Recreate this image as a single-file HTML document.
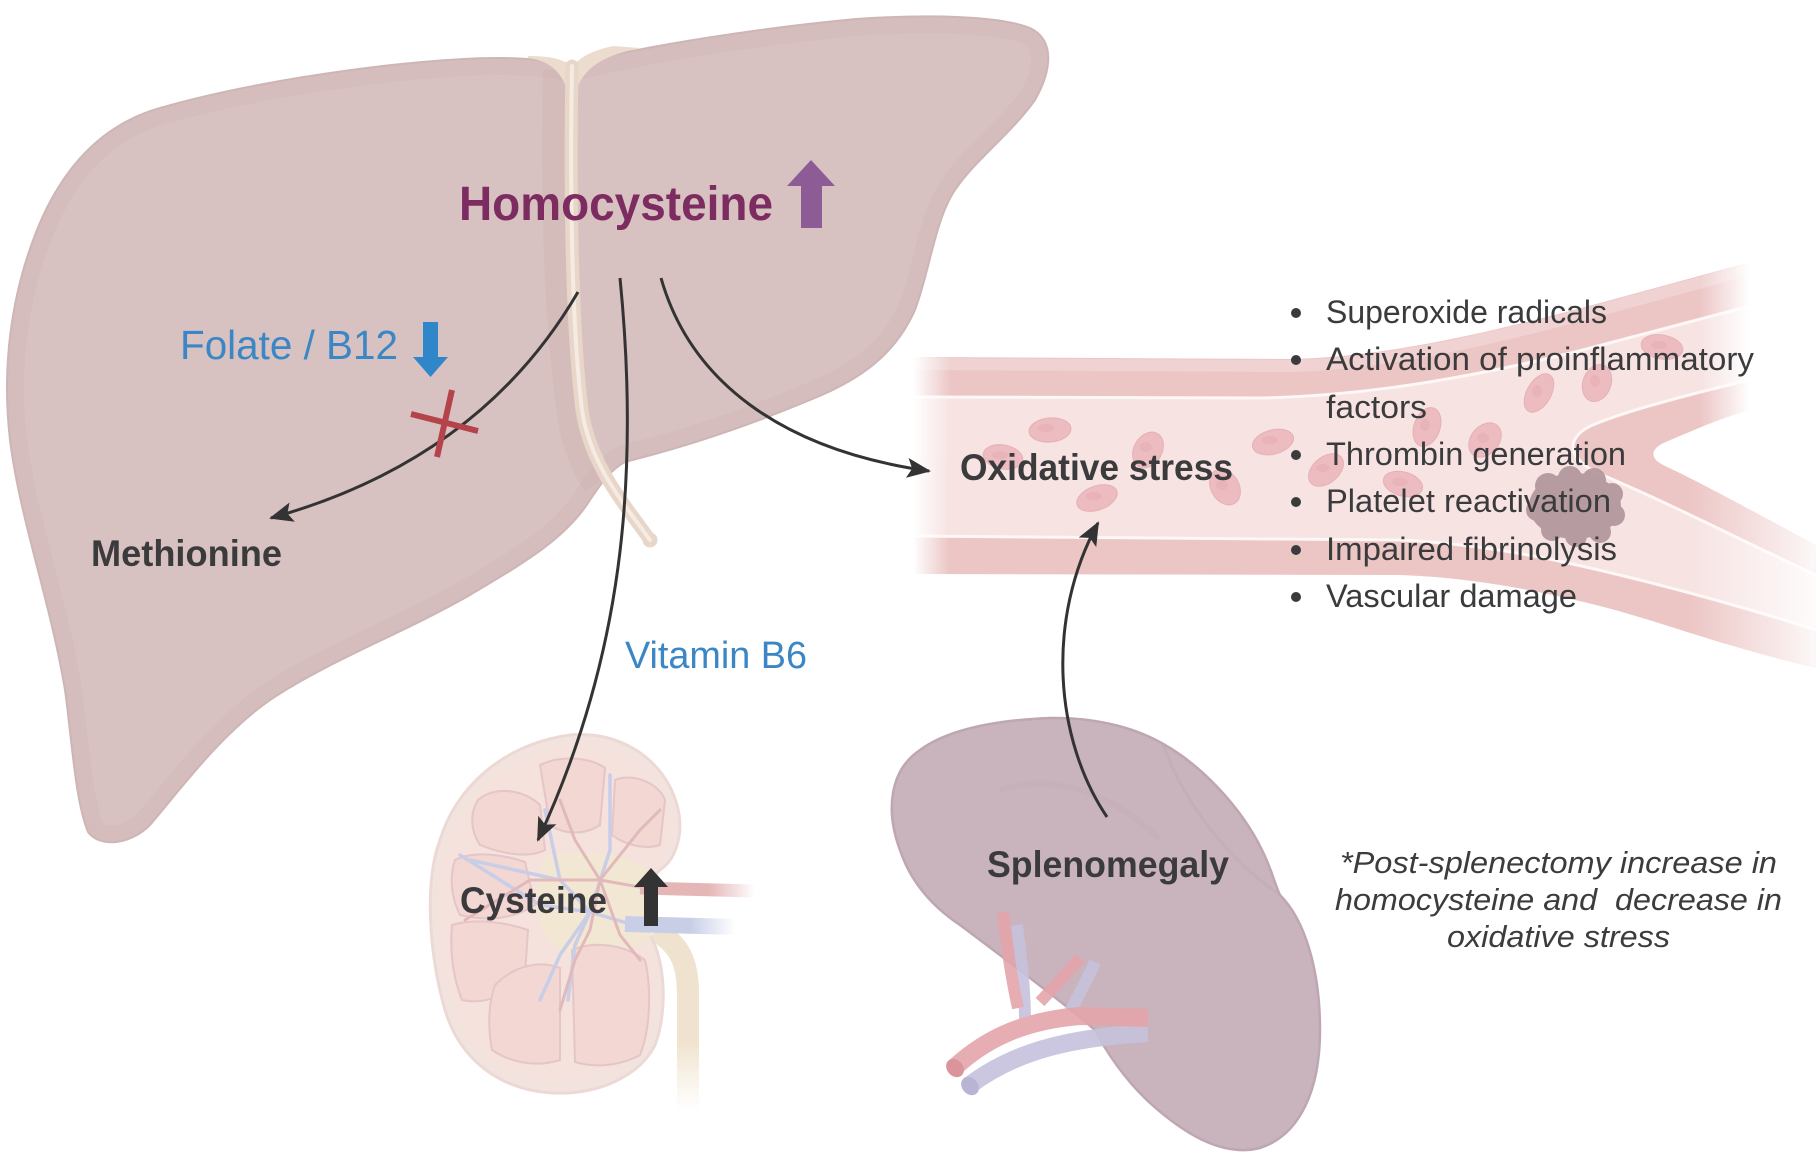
<!DOCTYPE html>
<html><head><meta charset="utf-8">
<style>
html,body{margin:0;padding:0;background:#fff;width:1816px;height:1154px;overflow:hidden}
svg{display:block}
</style></head>
<body>
<svg width="1816" height="1154" viewBox="0 0 1816 1154" xmlns="http://www.w3.org/2000/svg" font-family="'Liberation Sans', Arial, sans-serif">
<defs>
  <linearGradient id="gTop" gradientUnits="userSpaceOnUse" x1="913" y1="0" x2="1750" y2="0">
    <stop offset="0" stop-color="#000"/>
    <stop offset="0.045" stop-color="#fff"/>
    <stop offset="0.94" stop-color="#fff"/>
    <stop offset="1" stop-color="#000"/>
  </linearGradient>
  <linearGradient id="gBot" gradientUnits="userSpaceOnUse" x1="913" y1="0" x2="1816" y2="0">
    <stop offset="0" stop-color="#000"/>
    <stop offset="0.04" stop-color="#fff"/>
    <stop offset="0.86" stop-color="#fff"/>
    <stop offset="1" stop-color="#222"/>
  </linearGradient>
  <mask id="vm" maskUnits="userSpaceOnUse" x="0" y="0" width="1816" height="1154">
    <rect x="0" y="0" width="1816" height="1154" fill="#000"/>
    <rect x="900" y="200" width="916" height="260" fill="url(#gTop)"/>
    <rect x="900" y="460" width="916" height="260" fill="url(#gBot)"/>
  </mask>
  <linearGradient id="gRa" gradientUnits="userSpaceOnUse" x1="640" y1="0" x2="755" y2="0">
    <stop offset="0.6" stop-color="#dea4a5" stop-opacity="1"/>
    <stop offset="1" stop-color="#dea4a5" stop-opacity="0"/>
  </linearGradient>
  <linearGradient id="gVe" gradientUnits="userSpaceOnUse" x1="625" y1="0" x2="735" y2="0">
    <stop offset="0.6" stop-color="#bcc3e2" stop-opacity="1"/>
    <stop offset="1" stop-color="#bcc3e2" stop-opacity="0"/>
  </linearGradient>
  <linearGradient id="gUr" gradientUnits="userSpaceOnUse" x1="0" y1="1040" x2="0" y2="1110">
    <stop offset="0" stop-color="#ecdcc2" stop-opacity="1"/>
    <stop offset="1" stop-color="#ecdcc2" stop-opacity="0"/>
  </linearGradient>
  <clipPath id="lc"><path id="liverPath" d="M572,64 C650,45 760,28 856,19 C930,14 1000,16 1030,28 C1055,40 1052,70 1035,100 C1010,135 975,160 955,190 C935,220 930,270 915,310 C895,355 860,380 810,400 C750,425 690,445 640,458 L625,462 C610,470 600,485 590,500 C565,540 520,565 470,595 C400,635 330,660 270,700 C220,735 180,790 150,825 C130,845 100,848 88,832 C75,800 72,740 65,690 C50,600 20,520 10,440 C2,370 10,300 35,235 C60,170 100,125 160,108 C240,85 360,65 463,59 C510,56 545,60 572,64 Z"/></clipPath>
  <clipPath id="sc"><path d="M900,850 C885,810 890,770 920,750 C950,728 1000,720 1050,718 C1100,717 1140,730 1165,745 C1200,765 1240,805 1262,850 C1272,870 1275,885 1280,895 C1305,920 1320,970 1320,1030 C1320,1090 1300,1135 1260,1148 C1220,1158 1180,1130 1150,1103 C1125,1080 1105,1050 1095,1030 C1060,1000 1000,955 960,925 C930,905 910,880 900,850 Z"/></clipPath>
  <marker id="ah" viewBox="0 0 24 20" refX="22" refY="10" markerWidth="24" markerHeight="20" markerUnits="userSpaceOnUse" orient="auto">
    <path d="M0,0 L24,10 L0,20 L5,10 Z" fill="#333"/>
  </marker>
</defs>

<!-- ===== Blood vessel ===== -->
<g mask="url(#vm)">
  <path d="M913,357 L1290,359 C1390,357 1500,330 1611,300 L1750,262 L1750,410 C1715,420 1690,432 1668,441 C1650,448 1648,458 1665,466 C1700,482 1760,515 1816,545 L1816,668 C1790,662 1760,654 1740,648 C1690,634 1630,612 1575,600 C1520,587 1460,577 1400,575 L913,574 Z" fill="#ecc6c5"/>
  <path d="M913,364 L1290,366 C1390,364 1500,337 1611,307 L1750,269" fill="none" stroke="#efd2d1" stroke-width="12"/>
  <path d="M913,397 L1260,398 C1360,396 1460,380 1575,352 L1750,306 L1750,380 C1690,394 1630,410 1595,424 C1565,436 1565,458 1600,474 C1680,508 1750,545 1816,575 L1816,630 C1760,612 1700,595 1640,580 C1580,565 1500,545 1400,540 L913,536 Z" fill="#f6e3e2"/>
  <g fill="none" stroke="#fdf7f6" stroke-width="3">
    <path d="M913,397 L1260,398 C1360,396 1460,380 1575,352 L1750,306"/>
    <path d="M1750,380 C1690,394 1630,410 1595,424 C1565,436 1565,458 1600,474 C1680,508 1750,545 1816,575"/>
    <path d="M1816,630 C1760,612 1700,595 1640,580 C1580,565 1500,545 1400,540 L913,536"/>
  </g>
  <!-- red blood cells -->
  <g fill="#ecbcc1" stroke="#e6b0b6" stroke-width="1">
    <ellipse cx="1050" cy="430" rx="21" ry="12" transform="rotate(-5 1050 430)"/>
    <ellipse cx="1003" cy="457" rx="20" ry="12" transform="rotate(10 1003 457)"/>
    <ellipse cx="1148" cy="450" rx="19" ry="14" transform="rotate(-60 1148 450)"/>
    <ellipse cx="1097" cy="498" rx="21" ry="12" transform="rotate(-20 1097 498)"/>
    <ellipse cx="1225" cy="487" rx="19" ry="14" transform="rotate(60 1225 487)"/>
    <ellipse cx="1273" cy="442" rx="21" ry="12" transform="rotate(-15 1273 442)"/>
    <ellipse cx="1326" cy="470" rx="20" ry="13" transform="rotate(-40 1326 470)"/>
    <ellipse cx="1427" cy="427" rx="20" ry="13" transform="rotate(-70 1427 427)"/>
    <ellipse cx="1403" cy="484" rx="20" ry="12" transform="rotate(15 1403 484)"/>
    <ellipse cx="1485" cy="440" rx="19" ry="14" transform="rotate(-50 1485 440)"/>
    <ellipse cx="1539" cy="393" rx="21" ry="12" transform="rotate(-60 1539 393)"/>
    <ellipse cx="1597" cy="383" rx="19" ry="14" transform="rotate(-70 1597 383)"/>
    <ellipse cx="1662" cy="347" rx="21" ry="12" transform="rotate(10 1662 347)"/>
  </g>
  <g fill="#e6aeb4" opacity="0.6">
    <ellipse cx="1046" cy="428" rx="8" ry="4"/>
    <ellipse cx="1000" cy="455" rx="8" ry="4"/>
    <ellipse cx="1146" cy="447" rx="6" ry="5"/>
    <ellipse cx="1094" cy="496" rx="8" ry="4"/>
    <ellipse cx="1222" cy="485" rx="6" ry="5"/>
    <ellipse cx="1270" cy="440" rx="8" ry="4"/>
    <ellipse cx="1323" cy="468" rx="7" ry="4"/>
    <ellipse cx="1425" cy="425" rx="5" ry="6"/>
    <ellipse cx="1400" cy="482" rx="8" ry="4"/>
    <ellipse cx="1483" cy="438" rx="6" ry="5"/>
    <ellipse cx="1537" cy="391" rx="5" ry="6"/>
    <ellipse cx="1595" cy="381" rx="5" ry="6"/>
    <ellipse cx="1659" cy="345" rx="8" ry="4"/>
  </g>
  <!-- thrombus -->
  <g fill="#b0959a" opacity="0.9">
    <ellipse cx="1575" cy="506" rx="46" ry="33"/>
    <circle cx="1548" cy="486" r="13"/>
    <circle cx="1570" cy="478" r="12"/>
    <circle cx="1594" cy="480" r="12"/>
    <circle cx="1612" cy="494" r="11"/>
    <circle cx="1614" cy="515" r="11"/>
    <circle cx="1600" cy="532" r="11"/>
    <circle cx="1576" cy="536" r="11"/>
    <circle cx="1552" cy="530" r="11"/>
    <circle cx="1537" cy="510" r="11"/>
  </g>
</g>

<!-- ===== Liver ===== -->
<use href="#liverPath" fill="#d8c2c1" stroke="#cfb6b6" stroke-width="2"/>
<g clip-path="url(#lc)">
  <use href="#liverPath" fill="none" stroke="#cdb4b4" stroke-width="34" opacity="0.35"/>
  <path d="M555,70 C552,200 556,330 570,420 C575,450 585,470 595,485" fill="none" stroke="#cdb3b3" stroke-width="24" opacity="0.35"/>
</g>
<!-- ligament -->
<path d="M528,58 C552,61 566,74 572,108 C577,72 596,57 640,48 L614,46 C592,50 578,58 572,68 C566,59 550,56 528,56 Z" fill="#ecdcce"/>
<path d="M572,66 C570,180 571,320 582,410 C590,465 625,505 650,540" fill="none" stroke="#e8d6c9" stroke-width="13" stroke-linecap="round"/>
<circle cx="650" cy="540" r="7.5" fill="#e8d6c9"/>
<path d="M572,66 C570,180 571,320 582,410 C590,465 625,505 650,540" fill="none" stroke="#f5ebe3" stroke-width="4" stroke-linecap="round"/>

<!-- ===== Kidney ===== -->
<g opacity="0.8">
  <path d="M655,930 C680,945 688,962 688,995 L688,1110" fill="none" stroke="url(#gUr)" stroke-width="22"/>
  <path d="M655,930 C680,945 688,962 688,995 L688,1040" fill="none" stroke="#ecdcc2" stroke-width="22"/>
  <path d="M570,735 C620,730 665,760 677,805 C685,835 675,860 660,870 L650,880 L650,935 C665,960 668,1010 655,1045 C640,1075 600,1095 553,1093 C500,1090 460,1060 445,1010 C428,950 425,880 440,840 C455,790 500,745 570,735 Z" fill="#f0ddd8" stroke="#e8d0cb" stroke-width="3"/>
  <path d="M570,735 C620,730 665,760 677,805 C685,835 675,860 660,870 L650,880 L650,935 C665,960 668,1010 655,1045 C640,1075 600,1095 553,1093 C500,1090 460,1060 445,1010 C428,950 425,880 440,840 C455,790 500,745 570,735 Z" fill="#f3dbd5" transform="translate(555,915) scale(0.93) translate(-555,-915)"/>
  <path d="M545,858 C575,848 612,850 645,868 L652,935 C622,962 580,962 550,942 C533,915 533,882 545,858 Z" fill="#f0e2c9"/>
  <g fill="#efcec8" stroke="#dfb7bb" stroke-width="2">
    <path d="M478,800 C495,785 525,790 540,805 L545,850 C530,858 505,855 480,845 C470,830 470,812 478,800 Z"/>
    <path d="M540,765 C560,755 590,757 605,768 L600,825 C585,835 565,835 550,825 Z"/>
    <path d="M615,780 C635,772 660,785 665,800 L660,845 C645,850 625,845 612,835 Z"/>
    <path d="M455,860 C475,850 505,855 525,862 L535,905 C515,918 490,922 460,915 C450,895 450,875 455,860 Z"/>
    <path d="M452,925 C475,918 505,922 528,930 L525,975 C510,995 485,1005 462,1000 C452,975 450,948 452,925 Z"/>
    <path d="M495,985 C515,965 540,960 560,968 L560,1060 C535,1068 510,1062 492,1050 C488,1028 488,1005 495,985 Z"/>
    <path d="M572,950 C595,940 625,945 645,960 C652,990 650,1030 640,1055 C620,1066 595,1068 575,1062 Z"/>
  </g>
  <g fill="none" stroke="#bcc2e0" stroke-width="3.5" stroke-linecap="round">
    <path d="M630,924 L590,912 L560,880 L545,810"/>
    <path d="M590,912 L610,850 L610,775"/>
    <path d="M590,912 L540,905 L460,855"/>
    <path d="M590,912 L560,955 L540,1000"/>
    <path d="M590,912 L575,945 L568,1000"/>
    <path d="M560,880 L470,860"/>
  </g>
  <g fill="none" stroke="#dca8ab" stroke-width="3" stroke-linecap="round">
    <path d="M645,888 L600,880 L575,840 L560,800"/>
    <path d="M600,880 L640,830 L660,810"/>
    <path d="M600,880 L530,880 L465,920"/>
    <path d="M600,880 L590,930 L575,960 L560,1010"/>
    <path d="M600,880 L620,935 L640,960"/>
  </g>
  <path d="M640,888 L755,891" fill="none" stroke="url(#gRa)" stroke-width="13"/>
  <path d="M625,924 L735,927" fill="none" stroke="url(#gVe)" stroke-width="16"/>
</g>

<!-- ===== Spleen ===== -->
<path d="M900,850 C885,810 890,770 920,750 C950,728 1000,720 1050,718 C1100,717 1140,730 1165,745 C1200,765 1240,805 1262,850 C1272,870 1275,885 1280,895 C1305,920 1320,970 1320,1030 C1320,1090 1300,1135 1260,1148 C1220,1158 1180,1130 1150,1103 C1125,1080 1105,1050 1095,1030 C1060,1000 1000,955 960,925 C930,905 910,880 900,850 Z" fill="#c9b3bd" stroke="#bea6b2" stroke-width="2.5"/>
<g clip-path="url(#sc)" fill="none">
  <path d="M1163,745 C1180,790 1215,850 1280,895" stroke="#c2abb6" stroke-width="3" opacity="0.6"/>
  <path d="M1000,790 C1060,770 1120,800 1160,840" stroke="#c2abb6" stroke-width="6" opacity="0.35"/>
</g>
<g opacity="0.9" fill="none" stroke-linecap="butt">
  <path d="M1025,1022 C1025,985 1020,950 1017,925" stroke="#c6c2dd" stroke-width="12"/>
  <path d="M1068,1016 C1078,996 1088,978 1095,962" stroke="#c6c2dd" stroke-width="12"/>
  <path d="M970,1085 C1010,1055 1060,1038 1148,1033" stroke="#c6c2dd" stroke-width="18"/>
  <path d="M1018,1008 C1010,972 1006,940 1003,912" stroke="#e4a5aa" stroke-width="12"/>
  <path d="M1040,1002 C1055,986 1068,972 1080,958" stroke="#e4a5aa" stroke-width="12"/>
  <path d="M955,1067 C990,1035 1030,1020 1080,1016 L1148,1018" stroke="#e4a5aa" stroke-width="18"/>
</g>
<ellipse cx="970" cy="1086" rx="8" ry="10" fill="#b9b4d4" transform="rotate(-40 970 1086)"/>
<ellipse cx="955" cy="1068" rx="8" ry="10" fill="#dc949b" transform="rotate(-40 955 1068)"/>

<!-- ===== Text ===== -->
<text x="459" y="220" font-size="48" font-weight="bold" fill="#7d2c61" textLength="314" lengthAdjust="spacingAndGlyphs">Homocysteine</text>
<path d="M811,160 L835,186 L822,186 L822,228 L801,228 L801,186 L787,186 Z" fill="#8d5b96"/>

<text x="180" y="359" font-size="41" fill="#3b86c5" textLength="218" lengthAdjust="spacingAndGlyphs">Folate / B12</text>
<path d="M423,322 L438,322 L438,357 L448,357 L430.5,377 L413,357 L423,357 Z" fill="#2f86c8"/>

<text x="91" y="566" font-size="37" font-weight="bold" fill="#3b3b3d" textLength="191" lengthAdjust="spacingAndGlyphs">Methionine</text>
<text x="625" y="668" font-size="38" fill="#3b86c5" textLength="182" lengthAdjust="spacingAndGlyphs">Vitamin B6</text>
<text x="960" y="480" font-size="37" font-weight="bold" fill="#3b3b3d" textLength="273" lengthAdjust="spacingAndGlyphs">Oxidative stress</text>
<text x="987" y="877" font-size="37" font-weight="bold" fill="#3b3b3d" textLength="242" lengthAdjust="spacingAndGlyphs">Splenomegaly</text>
<text x="460" y="913" font-size="37" font-weight="bold" fill="#3b3b3d" textLength="147" lengthAdjust="spacingAndGlyphs">Cysteine</text>
<path d="M651,868 L668,887 L658,887 L658,926 L644,926 L644,887 L634,887 Z" fill="#333"/>

<g font-size="32" fill="#3b3b3d">
  <text x="1326" y="323" textLength="281" lengthAdjust="spacingAndGlyphs">Superoxide radicals</text>
  <text x="1326" y="370" textLength="428" lengthAdjust="spacingAndGlyphs">Activation of proinflammatory</text>
  <text x="1326" y="418" textLength="101" lengthAdjust="spacingAndGlyphs">factors</text>
  <text x="1326" y="465" textLength="300" lengthAdjust="spacingAndGlyphs">Thrombin generation</text>
  <text x="1326" y="512" textLength="285" lengthAdjust="spacingAndGlyphs">Platelet reactivation</text>
  <text x="1326" y="560" textLength="291" lengthAdjust="spacingAndGlyphs">Impaired fibrinolysis</text>
  <text x="1326" y="607" textLength="251" lengthAdjust="spacingAndGlyphs">Vascular damage</text>
</g>
<g fill="#3b3b3d">
  <circle cx="1296" cy="313" r="5"/>
  <circle cx="1296" cy="360" r="5"/>
  <circle cx="1296" cy="455" r="5"/>
  <circle cx="1296" cy="502" r="5"/>
  <circle cx="1296" cy="550" r="5"/>
  <circle cx="1296" cy="597" r="5"/>
</g>

<g font-size="31" font-style="italic" fill="#3c3c3c">
  <text x="1340" y="873" textLength="437" lengthAdjust="spacingAndGlyphs">*Post-splenectomy increase in</text>
  <text x="1335" y="910" textLength="447" lengthAdjust="spacingAndGlyphs">homocysteine and&#160; decrease in</text>
  <text x="1447" y="947" textLength="223" lengthAdjust="spacingAndGlyphs">oxidative stress</text>
</g>

<!-- ===== Arrows ===== -->
<g fill="none" stroke="#333" stroke-width="3" marker-end="url(#ah)">
  <path d="M578,292 Q480,460 271,518"/>
  <path d="M620,278 C640,480 622,660 538,840"/>
  <path d="M661,278 C690,380 780,450 929,471"/>
  <path d="M1107,817 C1055,740 1045,620 1098,523"/>
</g>
<!-- red X -->
<g stroke="#b4434b" stroke-width="6" stroke-linecap="butt">
  <line x1="411" y1="414" x2="478" y2="431"/>
  <line x1="452" y1="390" x2="437" y2="457"/>
</g>
</svg>
</body></html>
